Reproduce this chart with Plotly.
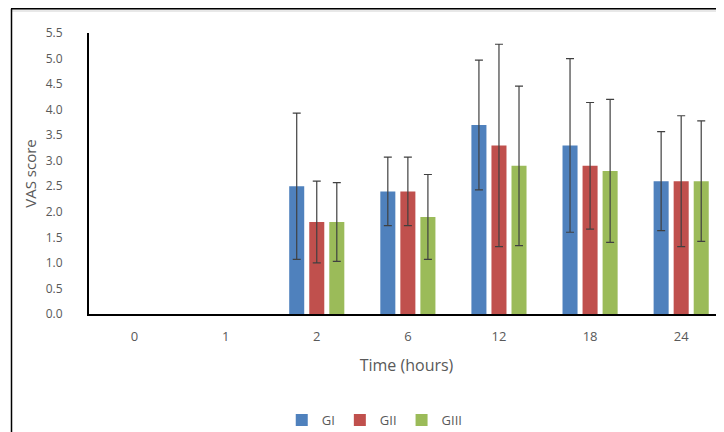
import plotly.graph_objects as go

times = ["0", "1", "2", "6", "12", "18", "24"]
gi = [None, None, 2.5, 2.4, 3.7, 3.3, 2.6]
gi_sd = [None, None, 1.43, 0.67, 1.27, 1.70, 0.97]
gii = [None, None, 1.8, 2.4, 3.3, 2.9, 2.6]
gii_sd = [None, None, 0.80, 0.67, 1.98, 1.24, 1.28]
giii = [None, None, 1.8, 1.9, 2.9, 2.8, 2.6]
giii_sd = [None, None, 0.77, 0.83, 1.56, 1.40, 1.18]
y_ticks = [0, 0.5, 1.0, 1.5, 2.0, 2.5, 3.0, 3.5, 4.0, 4.5, 5.0, 5.5]

series = [("GI", gi, gi_sd, "#4F81BD"),
          ("GII", gii, gii_sd, "#C0504D"),
          ("GIII", giii, giii_sd, "#9BBB59")]

FONT = "Open Sans"
GREY = "#595959"

fig = go.Figure()
for name, vals, sd, col in series:
    fig.add_trace(go.Bar(
        x=times, y=vals, name=name,
        marker=dict(color=col, line=dict(width=0)),
        error_y=dict(type="data", array=sd, visible=True,
                     color="#404040", thickness=1.2, width=4),
    ))

# page offset of the plot div (browser body margin)
OFF = 8
W, H = 724 - OFF, 432 - OFF
# plot area in page pixels: x 89..724, y 33..314
L, R, T, B = 89 - OFF, 724 - OFF, 33 - OFF, 314 - OFF
pw, ph = R - L, B - T
def px(x):
    return (x - OFF - L) / pw
def py(y):
    return (B - (y - OFF)) / ph

shapes = [
    dict(type="rect", xref="paper", yref="paper", x0=px(12), x1=px(740),
         y0=py(12), y1=py(9), fillcolor="#e8e8e8", line=dict(width=0), layer="below"),
    dict(type="line", xref="paper", yref="paper", x0=px(11), x1=px(740),
         y0=py(8.7), y1=py(8.7), line=dict(color="black", width=1.5)),
    dict(type="line", xref="paper", yref="paper", x0=px(11.5), x1=px(11.5),
         y0=py(8.7), y1=py(440), line=dict(color="black", width=1.5)),
]

fig.update_layout(
    width=W, height=H,
    margin=dict(l=L, r=W - R, t=T, b=H - B, autoexpand=False),
    paper_bgcolor="white", plot_bgcolor="white",
    barmode="group", bargap=0.34, bargroupgap=0.25,
    font=dict(family=FONT, color=GREY, size=12),
    showlegend=True,
    legend=dict(orientation="h", x=0.45, xanchor="center", y=py(420), yanchor="middle",
                font=dict(family=FONT, size=13, color=GREY),
                itemwidth=30, tracegroupgap=0, bgcolor="rgba(0,0,0,0)"),
    shapes=shapes,
)
fig.update_xaxes(
    type="category", categoryorder="array", categoryarray=times,
    range=[-0.5, 6.47],
    showline=True, linecolor="black", linewidth=2.2,
    showgrid=False, zeroline=False, ticks="",
    tickfont=dict(family=FONT, size=13, color=GREY),
    ticklabelstandoff=9,
    title=dict(text="Time (hours)", font=dict(family=FONT, size=16, color=GREY), standoff=16),
    fixedrange=True,
)
fig.update_yaxes(
    range=[0, 5.5], tickvals=y_ticks, tickformat=".1f",
    showline=True, linecolor="black", linewidth=2.2,
    showgrid=False, zeroline=False, ticks="",
    tickfont=dict(family=FONT, size=12, color=GREY),
    ticklabelstandoff=22,
    title=dict(text="VAS score", font=dict(family=FONT, size=15, color=GREY), standoff=5),
    fixedrange=True,
)

fig.write_html("out.html")
